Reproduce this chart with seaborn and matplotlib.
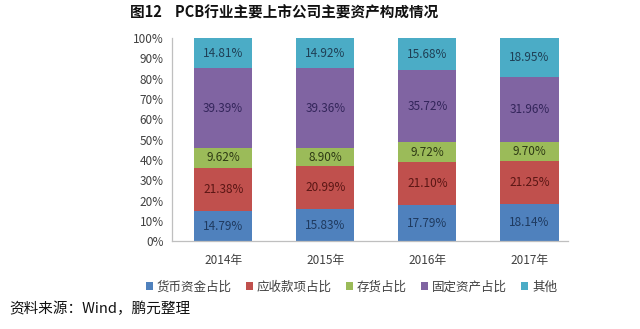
import matplotlib
matplotlib.use("Agg")
import matplotlib.pyplot as plt
import seaborn as sns
import numpy as np
import pandas as pd
from matplotlib.ticker import FuncFormatter, MultipleLocator

sns.set_style("white")
plt.rcParams['font.family'] = ['Noto Sans CJK SC', 'DejaVu Sans']

years = ["2014年", "2015年", "2016年", "2017年"]
series_names = ["货币资金占比", "应收款项占比", "存货占比", "固定资产占比", "其他"]
cash = [14.79, 15.83, 17.79, 18.14]
receivables = [21.38, 20.99, 21.10, 21.25]
inventory = [9.62, 8.90, 9.72, 9.70]
fixed_assets = [39.39, 39.36, 35.72, 31.96]
other = [14.81, 14.92, 15.68, 18.95]

colors = ["#4F81BD", "#C0504D", "#9BBB59", "#8064A2", "#4BACC6"]
label_colors = ["#1F3A5F", "#5A1614", "#2E3A14", "#33255A", "#1F3F55"]

series = [cash, receivables, inventory, fixed_assets, other]
data = np.array(series)
cum = np.cumsum(data, axis=0)

fig = plt.figure(figsize=(6.4, 3.29), dpi=100)
ax = fig.add_axes([0.269, 0.267, 0.638, 0.617])

# draw cumulative bars from top series down so each visible segment is the series value
for i in range(len(series) - 1, -1, -1):
    df = pd.DataFrame({"year": years, "value": cum[i]})
    sns.barplot(data=df, x="year", y="value", color=colors[i], width=0.57,
                saturation=1, ax=ax, label=series_names[i], edgecolor="none")

for i in range(len(series)):
    for j in range(len(years)):
        mid = cum[i][j] - data[i][j] / 2
        ax.text(j, mid, f"{data[i][j]:.2f}%", ha="center", va="center",
                fontsize=8.5, color=label_colors[i])

ax.set_ylim(0, 100)
ax.set_xlim(-0.5, 3.5)
ax.yaxis.set_major_locator(MultipleLocator(10))
ax.yaxis.set_major_formatter(FuncFormatter(lambda v, p: f"{int(round(v))}%"))
ax.set_xlabel("")
ax.set_ylabel("")
ax.tick_params(axis="both", length=0, labelsize=8.5, colors="#404040")
ax.tick_params(axis="x", pad=9)
ax.tick_params(axis="y", pad=6)
for s in ["top", "right"]:
    ax.spines[s].set_visible(False)
for s in ["left", "bottom"]:
    ax.spines[s].set_color("#BFBFBF")
    ax.spines[s].set_linewidth(0.9)
ax.spines["bottom"].set_bounds(-0.5, 3.38)

handles, labels = ax.get_legend_handles_labels()
order = [labels.index(n) for n in series_names]
ax.legend([handles[k] for k in order], [labels[k] for k in order],
          loc="center", bbox_to_anchor=(0.549, 0.128), bbox_transform=fig.transFigure,
          ncol=5, frameon=False,
          fontsize=9, handlelength=0.6, handleheight=0.6, handletextpad=0.3,
          columnspacing=1.1, labelcolor="#404040")

fig.text(0.444, 0.963, "图12    PCB行业主要上市公司主要资产构成情况", ha="center",
         va="center", fontsize=10.5, fontweight="bold", color="#111111")
fig.text(0.014, 0.06, "资料来源：Wind，鹏元整理", ha="left", va="center",
         fontsize=10.5, color="#111111")

fig.savefig("out.png", dpi=100)
